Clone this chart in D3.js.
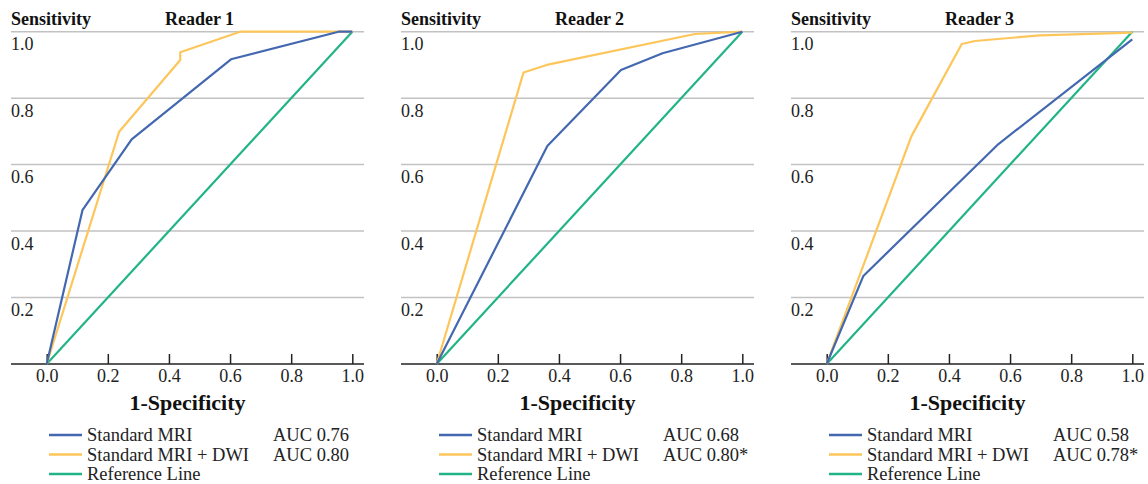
<!DOCTYPE html>
<html>
<head>
<meta charset="utf-8">
<script src="https://cdn.jsdelivr.net/npm/d3@7"></script>
<style>
  html, body { margin: 0; padding: 0; background: #fff; }
  svg { display: block; font-family: "Liberation Serif", "Times New Roman", serif; }
</style>
</head>
<body>
<svg id="chart" width="1148" height="484"></svg>
<script>
// ---- data ----
const readers = ["Reader 1", "Reader 2", "Reader 3"];
const seriesNames = ["Standard MRI", "Standard MRI + DWI", "Reference Line"];
const aucStandard = ["AUC 0.76", "AUC 0.68", "AUC 0.58"];
const aucDWI = ["AUC 0.80", "AUC 0.80*", "AUC 0.78*"];
const xTicks = [0, 0.2, 0.4, 0.6, 0.8, 1.0];
const yTicks = [0.2, 0.4, 0.6, 0.8, 1.0];

// ROC points [1-specificity, sensitivity]
const standardR1 = [[0, 0], [0.117, 0.463], [0.278, 0.676], [0.603, 0.917], [0.955, 1.0], [1.0, 1.0]];
const dwiR1 = [[0, 0], [0.237, 0.699], [0.437, 0.915], [0.437, 0.938], [0.633, 1.0], [1.0, 1.0]];
const standardR2 = [[0, 0], [0.362, 0.656], [0.603, 0.885], [0.739, 0.935], [1.0, 1.0]];
const dwiR2 = [[0, 0], [0.284, 0.877], [0.36, 0.9], [0.845, 0.993], [1.0, 1.0]];
const standardR3 = [[0, 0], [0.12, 0.265], [0.562, 0.662], [1.0, 0.977]];
const dwiR3 = [[0, 0], [0.277, 0.685], [0.442, 0.963], [0.485, 0.972], [0.698, 0.989], [1.0, 0.997]];
const referenceLine = [[0, 0], [1, 1]];

const standardSeries = [standardR1, standardR2, standardR3];
const dwiSeries = [dwiR1, dwiR2, dwiR3];

const colors = { standard: "#4468b0", dwi: "#fcc65b", ref: "#22b487" };

// ---- drawing ----
const svg = d3.select("#chart");
const panelStep = 390;

readers.forEach((reader, i) => {
  const ox = i * panelStep;
  const g = svg.append("g").attr("transform", `translate(${ox},0)`);

  const x = d3.scaleLinear().domain([0, 1]).range([46.7, 352.3]);
  const y = d3.scaleLinear().domain([0, 1]).range([364, 31.7]);
  const left = 11, right = 364;

  // gridlines
  g.selectAll("line.grid").data(yTicks).enter().append("line")
    .attr("class", "grid")
    .attr("x1", left).attr("x2", right)
    .attr("y1", d => y(d)).attr("y2", d => y(d))
    .attr("stroke", "#c2c2c2").attr("stroke-width", 1.5);

  // y tick labels (below gridline)
  g.selectAll("text.ylab").data(yTicks).enter().append("text")
    .attr("class", "ylab")
    .attr("x", left).attr("y", d => y(d) + 18.5)
    .attr("font-size", 18).attr("fill", "#222")
    .text(d => d3.format(".1f")(d));

  // x axis
  const xAxis = d3.axisBottom(x).tickValues(xTicks).tickFormat(d3.format(".1f"))
    .tickSize(-10).tickPadding(5);
  const ax = g.append("g").attr("transform", `translate(0,${y(0)})`).call(xAxis);
  ax.select(".domain").remove();
  ax.selectAll(".tick line").attr("stroke", "#222").attr("stroke-width", 1.5);
  ax.selectAll(".tick text").attr("font-size", 18).attr("fill", "#222")
    .attr("font-family", "Liberation Serif, Times New Roman, serif");
  g.append("line").attr("x1", left).attr("x2", right)
    .attr("y1", y(0)).attr("y2", y(0))
    .attr("stroke", "#222").attr("stroke-width", 1.5);

  // lines
  const line = d3.line().x(d => x(d[0])).y(d => y(d[1]));
  g.append("path").datum(referenceLine).attr("d", line)
    .attr("fill", "none").attr("stroke", colors.ref).attr("stroke-width", 2.2);
  g.append("path").datum(dwiSeries[i]).attr("d", line)
    .attr("fill", "none").attr("stroke", colors.dwi).attr("stroke-width", 2.2)
    .attr("stroke-linejoin", "round");
  g.append("path").datum(standardSeries[i]).attr("d", line)
    .attr("fill", "none").attr("stroke", colors.standard).attr("stroke-width", 2.2)
    .attr("stroke-linejoin", "round");

  // titles
  g.append("text").attr("x", left).attr("y", 25)
    .attr("font-size", 18).attr("font-weight", "bold").attr("fill", "#111")
    .text("Sensitivity");
  g.append("text").attr("x", x(0.5)).attr("y", 25).attr("text-anchor", "middle")
    .attr("font-size", 18).attr("font-weight", "bold").attr("fill", "#111")
    .text(reader);
  g.append("text").attr("x", (left + right) / 2).attr("y", 410).attr("text-anchor", "middle")
    .attr("font-size", 22).attr("font-weight", "bold").attr("fill", "#111")
    .text("1-Specificity");

  // legend
  const legendRows = [
    { name: seriesNames[0], color: colors.standard, auc: aucStandard[i] },
    { name: seriesNames[1], color: colors.dwi, auc: aucDWI[i] },
    { name: seriesNames[2], color: colors.ref, auc: "" }
  ];
  legendRows.forEach((r, k) => {
    const ly = 435 + k * 19.5;
    g.append("line").attr("x1", 49).attr("x2", 82).attr("y1", ly).attr("y2", ly)
      .attr("stroke", r.color).attr("stroke-width", 2.4);
    g.append("text").attr("x", 87).attr("y", ly + 6)
      .attr("font-size", 18.5).attr("fill", "#222").text(r.name);
    if (r.auc) {
      g.append("text").attr("x", 273).attr("y", ly + 6)
        .attr("font-size", 18.5).attr("fill", "#222").text(r.auc);
    }
  });
});
</script>
</body>
</html>
